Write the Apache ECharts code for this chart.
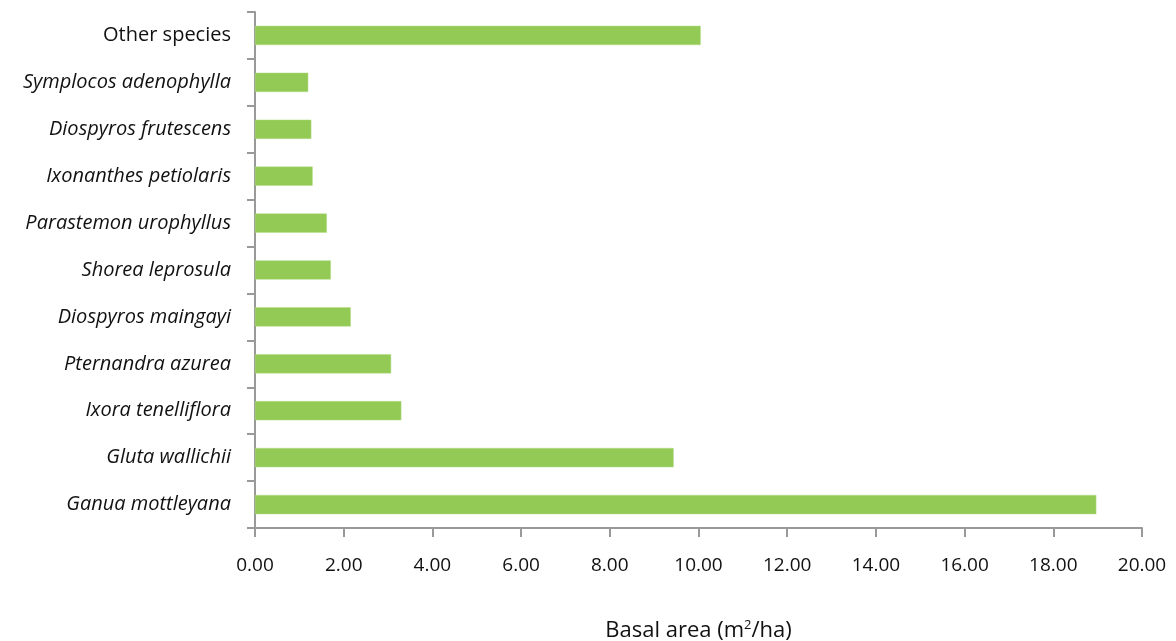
<!DOCTYPE html>
<html><head><meta charset="utf-8">
<script src="https://cdn.jsdelivr.net/npm/echarts@6/dist/echarts.min.js"></script>
<style>html,body{margin:0;padding:0;background:#fff}#c{width:1176px;height:641px}</style>
</head><body><div id="c"></div>
<script>
const categories = ["Ganua mottleyana","Gluta wallichii","Ixora tenelliflora","Pternandra azurea","Diospyros maingayi","Shorea leprosula","Parastemon urophyllus","Ixonanthes petiolaris","Diospyros frutescens","Symplocos adenophylla","Other species"];
const basalArea = [18.97, 9.44, 3.30, 3.07, 2.16, 1.71, 1.62, 1.30, 1.27, 1.20, 10.05];
const xTicks = {min: 0, max: 20, interval: 2};
const FONT = '"Open Sans", "Noto Sans", sans-serif';
const chart = echarts.init(document.getElementById('c'));
chart.setOption({
  animation: false,
  grid: {left: 255, right: 34, top: 12, bottom: 113, containLabel: false, outerBoundsMode: 'none'},
  xAxis: {
    type: 'value', min: xTicks.min, max: xTicks.max, interval: xTicks.interval,
    axisLine: {show: true, lineStyle: {color: '#999', width: 2}},
    axisTick: {show: true, length: 9, lineStyle: {color: '#999', width: 2}},
    splitLine: {show: false},
    axisLabel: {formatter: v => v.toFixed(2), color: '#111', fontSize: 19, fontFamily: FONT, margin: 28},
    name: '{a|Basal area (m}{s|2}{a|/ha)}', nameLocation: 'middle', nameGap: 91,
    nameTextStyle: {rich: {
      a: {fontSize: 22, color: '#111', fontFamily: FONT},
      s: {fontSize: 13, color: '#111', fontFamily: FONT, verticalAlign: 'top', padding: [0,0,10,0]}
    }}
  },
  yAxis: {
    type: 'category', data: categories,
    axisLine: {show: true, lineStyle: {color: '#999', width: 2}},
    axisTick: {show: true, length: 8, lineStyle: {color: '#999', width: 2}},
    axisLabel: {
      color: '#111', fontSize: 20, fontFamily: FONT, margin: 24,
      formatter: v => v === 'Other species' ? '{n|' + v + '}' : '{i|' + v + '}',
      rich: {
        n: {fontSize: 20, fontFamily: FONT, color: '#111'},
        i: {fontSize: 20, fontFamily: FONT, fontStyle: 'italic', color: '#111'}
      }
    }
  },
  series: [{
    type: 'bar', data: basalArea, barCategoryGap: '59%',
    itemStyle: {color: '#93c955', borderColor: '#b3dc86', borderWidth: 0.5}
  }]
});
</script></body></html>
